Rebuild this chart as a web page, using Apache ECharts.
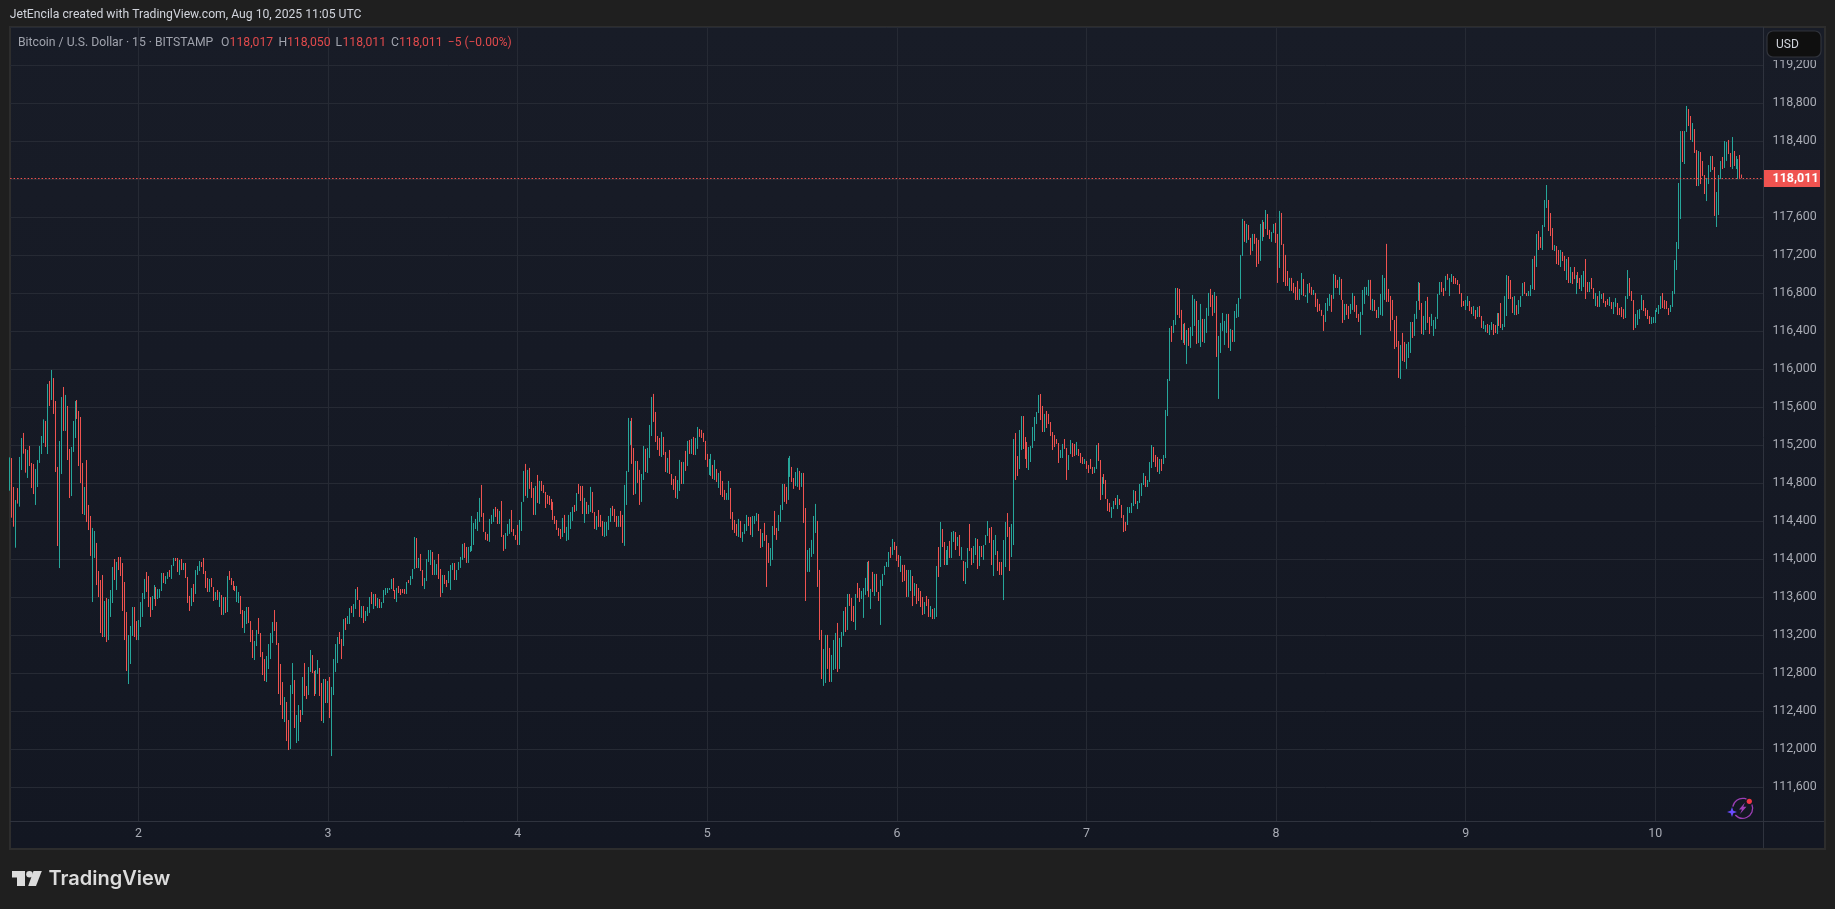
<!DOCTYPE html>
<html><head><meta charset="utf-8">
<style>html,body{margin:0;padding:0;background:#1f1f1f;overflow:hidden}#c{width:1835px;height:909px}</style>
<script src="https://cdn.jsdelivr.net/npm/echarts@6/dist/echarts.min.js"></script>
</head><body><div id="c"></div>
<script>
const highs=[
115073,115066,114761,114624,114750,115077,115277,115330,115161,115151,
115193,115014,115003,114951,115045,115193,115298,115473,115456,115845,
115877,115993,115908,115666,114972,115245,115708,115814,115730,115614,
115161,115182,115456,115666,115677,115561,115498,115014,114761,115045,
114572,114456,114330,114298,114172,113877,113782,113835,113561,113593,
113582,113677,113919,114003,113972,114024,114024,113961,113761,113445,
113203,113298,113498,113498,113350,113361,113550,113645,113793,113866,
113824,113603,113614,113729,113708,113687,113687,113856,113856,113824,
113866,113887,113940,114014,114014,114014,113993,114003,113961,113961,
113814,113614,113698,113740,113887,113929,113982,113972,114014,113877,
113803,113793,113803,113708,113656,113677,113656,113624,113603,113603,
113824,113877,113803,113771,113719,113719,113656,113614,113466,113456,
113498,113498,113350,113256,113140,113256,113382,113224,113024,112950,
112982,113108,113224,113340,113466,113340,113119,112898,112708,112550,
112498,112308,112677,112908,112729,112361,112466,112414,112761,112908,
112666,112866,113045,112992,112824,112835,112940,112856,112698,112740,
112740,112719,112761,112656,112950,113108,113182,113235,113161,113371,
113382,113403,113487,113508,113529,113687,113708,113572,113508,113508,
113456,113498,113603,113656,113635,113635,113593,113582,113550,113677,
113698,113698,113698,113793,113803,113677,113698,113719,113687,113687,
113687,113761,113782,113824,113898,114235,114224,114014,114056,113887,
113803,114003,114098,114098,114077,113993,113950,114056,113898,113835,
113835,113782,113877,113940,113961,113961,113887,113972,
114025,114162,114172,114130,114130,114140,114456,114383,114425,114498,
114646,114783,114488,114288,114267,114425,114467,114530,114551,114530,
114509,114614,114256,114277,114372,114425,114519,114319,114256,114362,
114414,114604,114930,115004,114941,114962,114814,114751,114772,114888,
114825,114825,114783,114709,114677,114667,114635,114604,114456,114414,
114330,114319,114435,114467,114341,114467,114498,114551,114572,114698,
114793,114772,114772,114646,114604,114572,114762,114709,114498,114456,
114519,114467,114404,114393,114393,114456,114540,114562,114530,114456,
114456,114509,114467,114783,114930,115488,115456,115488,115172,115035,
115035,114941,114898,115193,115162,115172,115414,115709,115741,115551,
115298,115277,115341,115288,115130,115067,115151,114898,114846,114877,
114835,115046,115025,115025,115141,115246,115256,115267,115288,115277,
115393,115372,115362,115330,115246,115109,115056,115109,114993,115046,
114951,114909,114930,114825,114730,114698,114825,114751,114498,114414,
114372,114425,114404,114288,114372,114467,114446,114446,114456,114456,
114488,114477,114319,114277,114383,114256,114172,114119,114351,114509,
114330,114467,114572,114793,114793,114762,115067,115088,114972,114856,
114919,114962,114930,114909,114909,114540,114098,114119,114204,114456,
114583,114404,113888,113256,113056,113204,113204,113067,112993,113151,
113225,113330,113172,113235,113456,113498,113635,113635,113593,113509,
113635,113751,113698,113667,113698,113804,113972,113983,113688,113867,
113846,113846,113656,113783,113846,113930,113972,114077,114130,114214,
114183,114140,114046,114035,113941,113941,113888,113888,
113887,113824,113750,113740,113698,113666,113603,113550,113614,113582,
113508,113477,113487,113929,114129,114393,114319,114182,114098,114140,
114193,114287,114298,114287,114235,114256,114129,113982,113972,114119,
114372,114119,114140,114224,114213,114140,114140,114150,114256,114403,
114329,114340,114203,114256,114087,113972,113972,114203,114393,114487,
114340,114372,115266,115329,115087,115361,115508,115508,115287,115235,
115182,115193,115393,115498,115551,115730,115740,115614,115530,115561,
115530,115445,115340,115308,115266,115224,115151,115214,115266,115172,
115098,115256,115224,115214,115235,115161,115119,115077,115056,115035,
114993,115056,114972,114972,115203,115224,115045,114866,114898,114835,
114635,114593,114550,114614,114645,114677,114635,114572,114466,114393,
114550,114550,114593,114729,114719,114614,114793,114803,114908,114877,
114835,115024,115203,115182,115098,115077,115056,115056,115098,115572,
115898,116435,
116456,116519,116856,116856,116846,116625,116477,116488,116414,116435,
116446,116783,116741,116719,116519,116688,116530,116530,116646,116804,
116846,116783,116814,116772,116351,116488,116593,116509,116583,116583,
116425,116414,116614,116688,116751,117204,117583,117562,117530,117519,
117383,117425,117425,117383,117362,117530,117572,117551,117677,117635,
117467,117446,117530,117541,117425,117667,117646,117320,117204,117035,
116962,116962,116909,116867,116930,116846,117014,116951,116783,116898,
116909,116867,116835,116804,116741,116688,116625,116572,116698,116751,
116793,116783,117004,116993,116941,116972,116951,116730,116688,116688,
116667,116688,116804,116772,116677,116583,116604,116835,116867,116867,
116941,116941,116741,116730,116625,116656,116793,116993,116961,117320,
116846,116772,116730,116519,116562,116298,116256,116383,116288,116267,
116288,116498,116498,116583,116719,116919,116909,116698,116562,116719,
116762,116551,116583,116519,116551,116793,116919,116919,116856,116983,
117004,
116961,117003,116982,116961,116940,116898,116803,116719,116729,116771,
116719,116656,116666,116624,116656,116666,116561,116508,116466,116477,
116466,116498,116477,116466,116592,116592,116698,116477,116771,116992,
116982,116940,116761,116771,116676,116729,116771,116908,116919,116803,
116824,116887,117161,117193,117424,117456,117393,117519,117782,117940,
117782,117645,117487,117308,117298,117256,117256,117235,117193,117161,
117182,117077,117024,117077,116992,117024,116961,116992,117035,117161,
116919,116919,116961,116856,116803,116771,116824,116792,116803,116719,
116740,116761,116708,116708,116750,116698,116645,116656,116634,116771,
117045,116961,116824,116729,116582,116624,116634,116782,116729,116645,
116624,116561,116550,116550,116624,116645,116677,116771,116803,116729,
116719,116645,116677,116824,117150,117340,117961,118508,118508,118508,
118772,118740,118666,118593,118529,118308,118298,118287,118193,118045,
118014,118150,118245,118245,118129,117866,118045,118193,118235,118403,
118393,118414,118277,118445,118298,118245,118214,118256,118050];
const lows=[
114722,114438,114343,114122,114586,114554,114940,115112,114912,114856,
114982,114750,114687,114572,114761,115014,115108,115224,115182,115108,
115614,115677,115530,114919,114140,113908,114898,115351,115351,115045,
114645,114666,115130,115277,115477,114982,114803,114477,114466,114393,
114308,114035,113550,114014,113729,113603,113224,113182,113182,113129,
113150,113393,113540,113782,113677,113887,113824,113456,113150,112824,
112687,112898,113193,113182,113150,113150,113287,113393,113582,113656,
113498,113393,113466,113582,113508,113582,113593,113666,113750,113740,
113793,113814,113793,113929,113982,113866,113835,113887,113887,113803,
113540,113456,113508,113550,113635,113835,113877,113919,113845,113698,
113656,113656,113708,113561,113572,113572,113498,113414,113414,113435,
113445,113782,113729,113677,113666,113550,113540,113424,113277,113224,
113319,113329,113129,112961,112940,113087,113214,112971,112782,112719,
112708,112845,112950,113119,113245,113098,112582,112466,112319,112287,
112087,111992,112003,112582,112224,112066,112087,112287,112361,112561,
112529,112571,112814,112803,112561,112582,112793,112561,112298,112277,
112487,112487,112329,111929,112571,112814,112908,113108,112950,113087,
113256,113319,113319,113435,113393,113477,113572,113393,113382,113329,
113350,113403,113435,113529,113477,113508,113487,113487,113487,113540,
113624,113645,113677,113687,113666,113582,113550,113645,113624,113645,
113635,113635,113750,113729,113793,113898,113908,113908,113877,113719,
113687,113771,113972,113940,113835,113835,113835,113793,113603,113645,
113740,113708,113750,113677,113887,113782,113782,113887,
113909,113993,114014,113962,113962,114077,114088,114151,114319,114298,
114393,114446,114288,114204,114193,114183,114372,114393,114446,114372,
114372,114235,114088,114109,114246,114267,114288,114246,114204,114151,
114151,114298,114604,114667,114646,114741,114646,114467,114467,114593,
114583,114719,114698,114540,114583,114572,114519,114414,114372,114309,
114246,114214,114235,114277,114193,114204,114319,114404,114498,114509,
114688,114614,114477,114383,114477,114477,114498,114488,114319,114309,
114341,114341,114246,114235,114246,114309,114393,114456,114393,114341,
114341,114341,114172,114141,114572,114919,115204,115004,114677,114688,
114804,114572,114604,114835,114919,114909,115067,115298,115446,115235,
115151,115088,115077,115098,114919,114909,114898,114783,114730,114646,
114635,114719,114793,114793,114930,114983,115109,115109,115098,115098,
115162,115288,115277,115235,115046,114972,114888,114877,114846,114835,
114814,114751,114677,114656,114625,114625,114625,114425,114309,114277,
114246,114235,114225,114183,114267,114298,114351,114256,114235,114372,
114404,114298,114119,114130,114193,113709,113962,113930,113993,114256,
114204,114298,114393,114519,114604,114583,114625,114867,114814,114741,
114772,114762,114730,114762,114383,113561,113867,113867,114025,114056,
114277,113709,113151,112740,112667,112698,112846,112709,112709,112835,
112846,112814,112846,113077,113193,113235,113256,113509,113351,113340,
113256,113593,113551,113583,113383,113625,113665,113604,113477,113656,
113614,113656,113561,113309,113719,113835,113919,113919,114014,114046,
114098,113983,113919,113866,113761,113772,113603,113604,
113666,113508,113614,113529,113561,113498,113414,113424,113508,113393,
113393,113371,113371,113393,113814,113919,114129,113940,113940,113940,
114014,114014,114182,114098,114140,114035,113993,113771,113740,113908,
114087,113940,113961,114045,113898,113929,114024,113993,114150,114245,
114172,113940,113824,114045,113877,113835,113835,113571,113919,114235,
113877,114024,114150,114835,114877,114950,115151,115161,115056,114961,
114940,115024,115172,115245,115424,115540,115466,115340,115340,115382,
115424,115298,115151,115182,115214,115014,115066,115066,115161,114835,
114940,115108,115077,115087,115098,115087,115014,115003,115003,114951,
114908,114951,114898,114908,114951,115035,114624,114677,114793,114635,
114508,114498,114435,114529,114572,114529,114572,114435,114287,114298,
114361,114487,114487,114561,114582,114529,114593,114666,114782,114761,
114761,114814,114961,115024,114972,114919,114898,114930,115003,115066,
115508,115877,
116288,116383,116467,116572,116540,116309,116277,116256,116056,116246,
116225,116351,116456,116267,116277,116235,116288,116277,116383,116562,
116656,116562,116593,116130,115688,116172,116404,116256,116383,116225,
116193,116288,116288,116540,116551,116741,117193,117341,117330,117362,
117204,117246,117320,117077,117109,117141,117351,117393,117477,117414,
117372,117341,117435,117330,116909,117067,117309,116919,116877,116877,
116825,116825,116804,116730,116730,116730,116783,116772,116762,116698,
116804,116783,116783,116656,116604,116614,116562,116404,116498,116614,
116667,116604,116741,116856,116856,116783,116730,116488,116519,116572,
116530,116583,116625,116604,116540,116498,116362,116572,116688,116783,
116772,116625,116614,116614,116540,116540,116572,116562,116730,116709,
116709,116404,116519,116214,116235,115909,115898,116088,116077,116004,
116119,116172,116330,116351,116530,116719,116625,116372,116362,116414,
116488,116372,116456,116351,116425,116530,116783,116814,116772,116825,
116941,
116771,116919,116898,116898,116887,116792,116656,116666,116624,116666,
116613,116582,116561,116529,116550,116550,116435,116424,116392,116382,
116361,116413,116361,116382,116371,116456,116435,116413,116445,116561,
116740,116740,116592,116571,116571,116582,116656,116771,116792,116771,
116771,116771,116845,116835,117077,117256,117277,117256,117498,117698,
117456,117403,117256,117245,117108,117098,117077,117140,117035,116940,
116908,116908,116898,116950,116792,116908,116845,116824,116866,116740,
116813,116813,116845,116740,116666,116656,116656,116740,116698,116656,
116677,116666,116634,116582,116656,116571,116571,116550,116529,116540,
116740,116771,116719,116413,116435,116466,116529,116624,116613,116561,
116529,116477,116477,116487,116487,116603,116582,116634,116645,116634,
116634,116571,116603,116656,116792,117045,117266,117582,118182,118161,
118498,118561,118414,118393,118277,117929,117929,117950,118035,117845,
117771,117950,118077,118098,117614,117498,117624,118003,118108,118119,
118193,118266,118129,118108,118140,118108,118003,118014,118011];
const barDirections=`uddud uuddu ddduu uuudu duddd uudud duuud dddud dduud dddud uuudu ddddd uuudd uuuud dduud uuudu uduud dudud ddudu uuddd
duddu dudud udddd uuddu udddu udddd uuuud ddddu dduud uudud duudd uuddu duduu uuddu duudu uddud uuudu duduu uuuud duddd
duduu ududd uuuud uuddu dduuu duuuu dduuu uuuud ddduu uddud duuud ddduu ududd dudud ddddd ddddd uduuu ududd duduu ddudd
duuuu dddud duuuu ddudd uuduu udddd uddud ddduu dudud uduud ddddu ududu ddduu ddddu duuud duuud duddd uuddu uuddu udduu
duddu uuuud dduud duuud uuudu dddud duuuu dudud duuuu ududd duddd uudud dddud duduu duddu uduud ududu udduu duduu udduu
ddduu dduud duudd duuuu uuddu ddddd dduud duudd udddu ddddu uddud ddduu duddd duuuu duuuu duuud ddudu uuudu udddu duduu
uduud uuudd uduuu uudud uuuuu duddu ddduu duddu uddud dddud ddduu duudd udddd duuud uddud duddu udddu uuuud udduu uuddd
ddddu dduuu duuud duudd uuuuu ddudu udddd dduud dudud duudu uddud duuud ddudu uuddu uudud duuud ddudd uddud uddud duudd
uddud uuddd uduud ddduu ddduu uuddd duuuu uuddd duuuu uuduu ddudd udddu uuddu uuduu ddudu udd`.replace(/\s/g,'');
const dayLabels=['2','3','4','5','6','7','8','9','10'];
const firstDayBar=65, barsPerDay=96, paddingBars=11;
const lastClose=118011;
const priceStep=400, priceMin=111200, priceMax=119600;
const headerText='JetEncila created with TradingView.com, Aug 10, 2025 11:05 UTC';
const symbolText='Bitcoin / U.S. Dollar \u00b7 15 \u00b7 BITSTAMP';

const total=highs.length+paddingBars;
const categories=[];
for(let i=0;i<total;i++){
  const k=(i-firstDayBar)/barsPerDay;
  categories.push(Number.isInteger(k)&&dayLabels[k]?dayLabels[k]:'');
}
const candles=highs.map((h,i)=>barDirections[i]==='u'?[lows[i],h,lows[i],h]:[h,lows[i],lows[i],h]);
const isDay=(i)=>categories[i]!=='';
const FF='Roboto, "Noto Sans", sans-serif';
const axisC='#2f333e', gridC='#262a34', txtC='#a9acb5', red='#e04a4c', legC='#a0a3ad', upC='#26a69a', downC='#ef5350';
const T=(x,y,text,fill,size,extra)=>({type:'text',z:110,silent:true,style:Object.assign({x,y,text,fill,font:(size||12)+'px '+FF,textVerticalAlign:'middle'},extra||{})});
const L=(x1,y1,x2,y2)=>({type:'line',z:60,silent:true,shape:{x1,y1,x2,y2},style:{stroke:axisC,lineWidth:1}});
const graphic=[
 {type:'rect',z:-3,silent:true,shape:{x:10,y:28,width:1814,height:820},style:{fill:new echarts.graphic.LinearGradient(0,0,0,1,[{offset:0,color:'#181c27'},{offset:1,color:'#131722'}])}},
 {type:'rect',z:-2,silent:true,shape:{x:10,y:27,width:1815,height:822},style:{fill:'none',stroke:'#2d2d2d',lineWidth:2}},
 {type:'rect',z:50,silent:true,shape:{x:11,y:822,width:1752,height:5},style:{fill:'#131722'}},
 L(1763.5,27,1763.5,848),L(10,821.5,1824,821.5),
 {type:'rect',z:90,silent:true,shape:{x:1764,y:28,width:60,height:32},style:{fill:'#181c27'}},
 {type:'rect',z:100,silent:true,shape:{x:1767,y:31,width:54,height:26,r:6},style:{fill:'#0f0f0f',stroke:'#30333b',lineWidth:1.2}},
 T(1776,44.5,'USD','#d1d4dc',12),
 T(9.7,15,headerText,'#d1d4dc',12.2),
 T(18,42.7,symbolText,legC,12.2),
 T(221,42.7,'O',legC,12.2),T(229.6,42.7,'118,017',red,12.2),
 T(278.6,42.7,'H',legC,12.2),T(287,42.7,'118,050',red,12.2),
 T(335.6,42.7,'L',legC,12.2),T(342.5,42.7,'118,011',red,12.2),
 T(391,42.7,'C',legC,12.2),T(399,42.7,'118,011',red,12.2),
 T(447.8,42.7,'\u22125 (\u22120.00%)',red,12),
 {type:'rect',z:100,silent:true,shape:{x:1764,y:170,width:56,height:17},style:{fill:downC}},
 T(1772.5,178.5,'118,011','#ffffff',12.5,{font:'bold 12.5px '+FF}),
 {type:'polygon',z:110,silent:true,shape:{points:[[12,871],[25,871],[25,886],[17,886],[17,877.5],[12,877.5]]},style:{fill:'#dcdcdc'}},
 {type:'circle',z:110,silent:true,shape:{cx:29.5,cy:874.2,r:3.3},style:{fill:'#dcdcdc'}},
 {type:'polygon',z:110,silent:true,shape:{points:[[33.5,871],[41.8,871],[36,886],[28.2,886]]},style:{fill:'#dcdcdc'}},
 T(48.5,879.3,'TradingView','#dcdcdc',20,{font:'600 20px Inter, Roboto, sans-serif'}),
 {type:'arc',z:110,silent:true,shape:{cx:1742.7,cy:808.3,r:10,startAngle:-0.4,endAngle:2.4,clockwise:true},style:{fill:'none',stroke:'#9c3fb5',lineWidth:1.3}},
 {type:'arc',z:110,silent:true,shape:{cx:1742.7,cy:808.3,r:10,startAngle:3.3,endAngle:5.1,clockwise:true},style:{fill:'none',stroke:'#9c3fb5',lineWidth:1.3}},
 {type:'polygon',z:110,silent:true,shape:{points:[[1745,802.5],[1739,809.5],[1742,809.5],[1740,814],[1746.5,806.8],[1743.3,806.8]]},style:{fill:'#9c3fb5'}},
 {type:'circle',z:111,silent:true,shape:{cx:1749.3,cy:801.3,r:2.6},style:{fill:'#f23645'}},
 {type:'polygon',z:111,silent:true,shape:{points:[[1732,807],[1733.3,810.7],[1737,812],[1733.3,813.3],[1732,817],[1730.7,813.3],[1727,812],[1730.7,810.7]]},style:{fill:'#6a4cff'}}
];
const chart=echarts.init(document.getElementById('c'),null,{renderer:'canvas',width:1835,height:909});
chart.setOption({
 animation:false,backgroundColor:'#1f1f1f',graphic,
 grid:{left:10.1,top:27.3,width:1753.8,height:798,containLabel:false},
 xAxis:{type:'category',data:categories,boundaryGap:false,
  axisLine:{show:false},axisTick:{show:false},
  splitLine:{show:true,interval:(i)=>isDay(i),lineStyle:{color:gridC,width:1}},
  axisLabel:{interval:(i)=>isDay(i),color:txtC,fontFamily:FF,fontSize:12.4,margin:3,hideOverlap:false}},
 yAxis:{type:'value',position:'right',min:priceMin,max:priceMax,interval:priceStep,
  axisLine:{show:false},axisTick:{show:false},
  splitLine:{show:true,lineStyle:{color:gridC,width:1}},
  axisLabel:{color:txtC,fontFamily:FF,fontSize:12.4,margin:8.5,align:'left',padding:[0,0,3,0],
   formatter:(v)=>(v===priceMin||v===priceMax)?'':v.toLocaleString('en-US')}},
 series:[{type:'candlestick',data:candles,barWidth:1,clip:true,large:false,progressive:0,
  itemStyle:{color:upC,color0:downC,borderColor:upC,borderColor0:downC,borderWidth:1},
  markLine:{silent:true,symbol:'none',animation:false,label:{show:false},
   lineStyle:{color:downC,type:[1.5,2],width:1},data:[{yAxis:lastClose}]}}]
});
</script></body></html>
